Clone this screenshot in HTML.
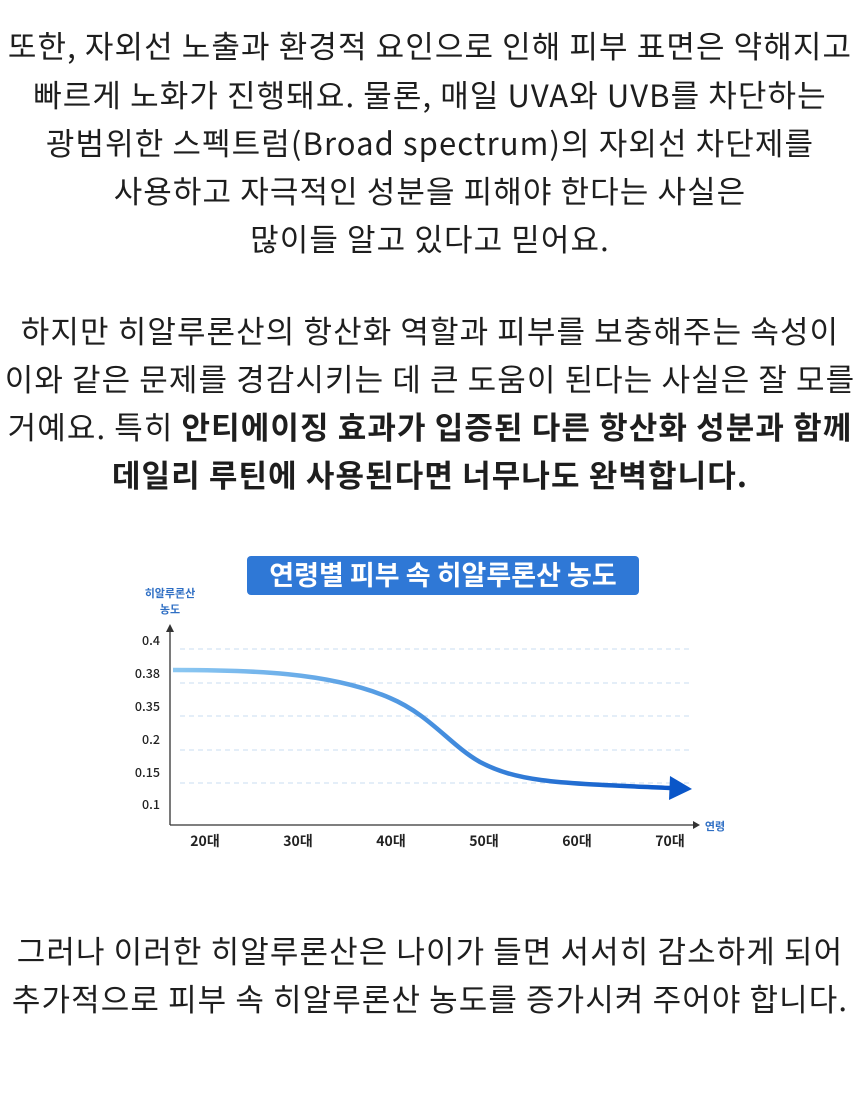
<!DOCTYPE html>
<html><head><meta charset="utf-8"><style>
body{margin:0;width:860px;height:1100px;background:#fff;position:relative;overflow:hidden;font-family:"Liberation Sans","Noto Sans CJK KR",sans-serif;color:#1e1e1e}
.l{position:absolute;left:0;width:860px;text-align:center;font-size:31px;letter-spacing:1.1px;line-height:40px;white-space:nowrap;font-family:"Noto Sans CJK KR",sans-serif}
b{font-weight:700}
</style></head><body>
<div class="l" style="top:25px">또한, 자외선 노출과 환경적 요인으로 인해 피부 표면은 약해지고</div>
<div class="l" style="top:74px">빠르게 노화가 진행돼요. 물론, 매일 UVA와 UVB를 차단하는</div>
<div class="l" style="top:122px">광범위한 스펙트럼(Broad spectrum)의 자외선 차단제를</div>
<div class="l" style="top:170px">사용하고 자극적인 성분을 피해야 한다는 사실은</div>
<div class="l" style="top:218px">많이들 알고 있다고 믿어요.</div>
<div class="l" style="top:310px">하지만 히알루론산의 항산화 역할과 피부를 보충해주는 속성이</div>
<div class="l" style="top:358px">이와 같은 문제를 경감시키는 데 큰 도움이 된다는 사실은 잘 모를</div>
<div class="l" style="top:406px">거예요. 특히 <b>안티에이징 효과가 입증된 다른 항산화 성분과 함께</b></div>
<div class="l" style="top:454px"><b>데일리 루틴에 사용된다면 너무나도 완벽합니다.</b></div>
<div class="l" style="top:930px">그러나 이러한 히알루론산은 나이가 들면 서서히 감소하게 되어</div>
<div class="l" style="top:978px">추가적으로 피부 속 히알루론산 농도를 증가시켜 주어야 합니다.</div>
<svg width="860" height="1100" style="position:absolute;left:0;top:0" font-family="Noto Sans CJK KR,sans-serif">
<defs><linearGradient id="g" x1="0" x2="1"><stop offset="0" stop-color="#8cc8f2"/><stop offset="0.5" stop-color="#4a93e0"/><stop offset="1" stop-color="#0a56c8"/></linearGradient></defs>
<rect x="247" y="556" width="392" height="39" rx="4" fill="#2f78d6"/>
<text x="443" y="585" text-anchor="middle" font-size="27" font-weight="700" fill="#fff">연령별 피부 속 히알루론산 농도</text>
<text x="170" y="597" text-anchor="middle" font-size="11" font-weight="700" fill="#2f6fc4">히알루론산</text>
<text x="170" y="613" text-anchor="middle" font-size="11" font-weight="700" fill="#2f6fc4">농도</text>
<g stroke="#d3e4f3" stroke-width="1.2" stroke-dasharray="5,4">
<line x1="180" y1="649" x2="690" y2="649"/><line x1="180" y1="683" x2="690" y2="683"/><line x1="180" y1="716" x2="690" y2="716"/><line x1="180" y1="750" x2="690" y2="750"/><line x1="180" y1="783" x2="690" y2="783"/></g>
<g font-size="12.5" font-weight="500" fill="#222" text-anchor="end"><text x="160" y="645">0.4</text><text x="160" y="678">0.38</text><text x="160" y="711">0.35</text><text x="160" y="744">0.2</text><text x="160" y="777">0.15</text><text x="160" y="809">0.1</text></g>
<path d="M170 825V628M170 825H697" stroke="#333" stroke-width="1.3" fill="none"/>
<path d="M166 632L170 624L174 632Z M693 821L700 825L693 829Z" fill="#333"/>
<text x="715" y="830" text-anchor="middle" font-size="11" font-weight="700" fill="#2f6fc4">연령</text>
<g font-size="14" font-weight="700" fill="#222" text-anchor="middle"><text x="205" y="846">20대</text><text x="298" y="846">30대</text><text x="391" y="846">40대</text><text x="484" y="846">50대</text><text x="577" y="846">60대</text><text x="670" y="846">70대</text></g>
<path d="M173 670C250 670 330 672 390 698C430 715 450 745 480 762C520 783 560 783 670 788" stroke="url(#g)" stroke-width="4.5" fill="none"/>
<path d="M670 776L692 789L669 800Z" fill="#0a56c8"/>
</svg>
</body></html>
